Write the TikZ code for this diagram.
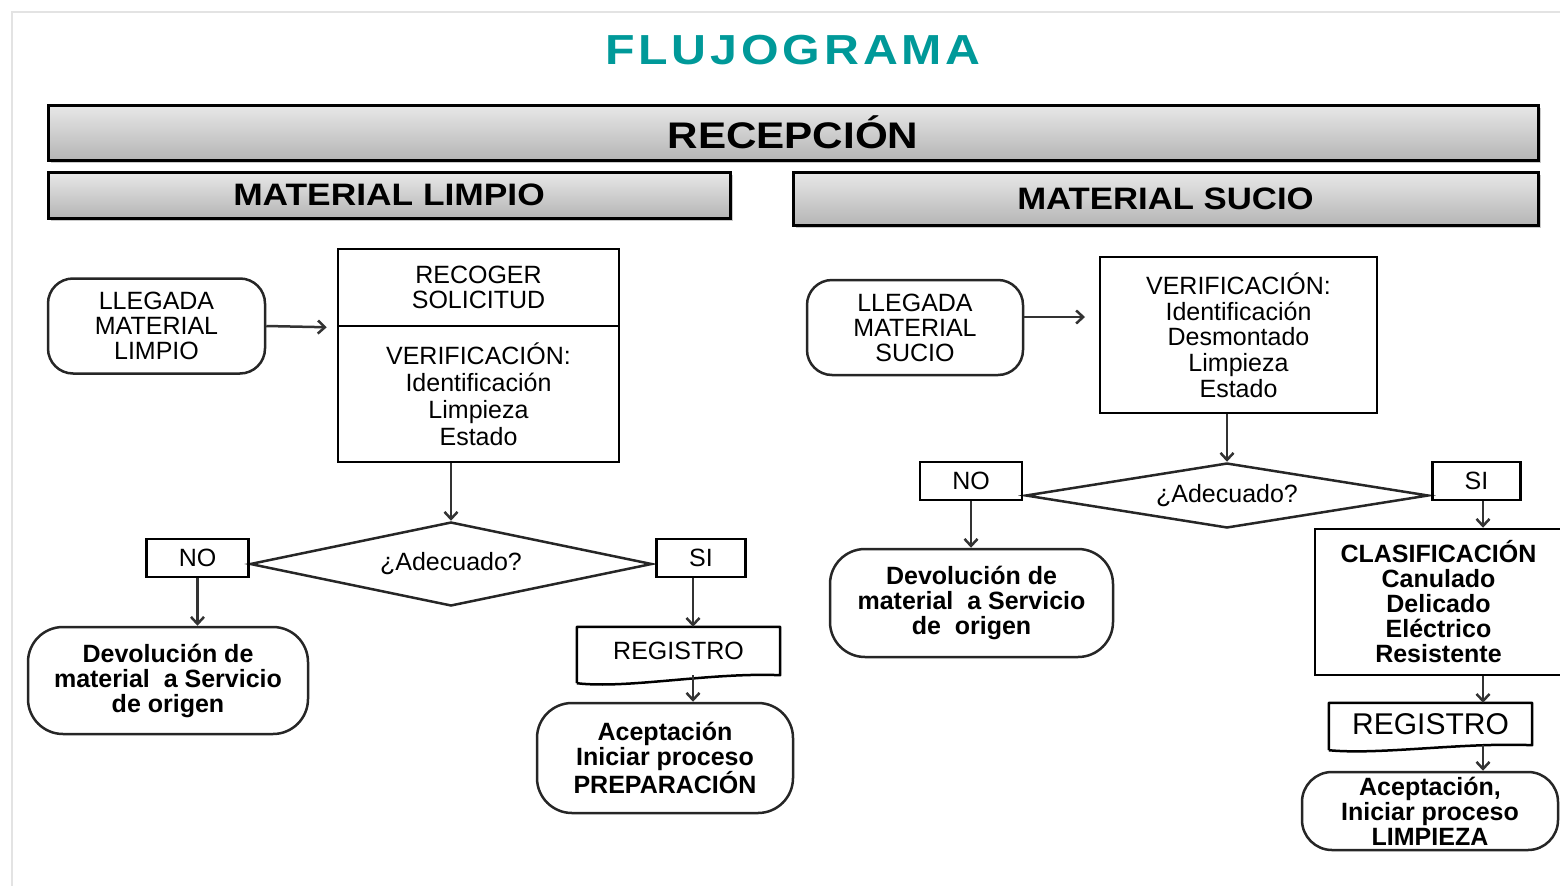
\documentclass[tikz,border=0pt]{standalone}
\usepackage{fontspec}
\setmainfont{Liberation Sans}
\newfontfamily\titlefont[LetterSpace=8]{Liberation Sans}
\usetikzlibrary{shapes.geometric, arrows.meta, shadows, positioning}
\definecolor{verdeazul}{RGB}{0,153,153}
\tikzstyle{cuerpo} = [font=\fontsize{25}{25}\selectfont, align=center, inner sep=0pt]
\tikzstyle{negrita} = [font=\fontsize{25}{25}\selectfont\bfseries]
\tikzstyle{inicio} = [cuerpo, rectangle, rounded corners=25pt, draw=black!85, line width=2.5pt]
\tikzstyle{proceso} = [cuerpo, rectangle, draw=black, line width=2.5pt]
\tikzstyle{decision} = [cuerpo, diamond, draw=black!85, line width=2.5pt]
\tikzstyle{respuesta} = [cuerpo, rectangle, draw=black, line width=2.5pt, minimum height=38pt]
\tikzstyle{documento} = [cuerpo, rectangle, minimum width=203pt]
\tikzstyle{barra} = [rectangle, draw=black, line width=3pt, top color=gray!18, bottom color=gray!58, drop shadow={shadow xshift=3pt, shadow yshift=-3pt, fill=gray!70, opacity=0.6}]
\tikzstyle{arrow} = [-{Straight Barb[length=7pt,width=13pt]}, line width=2.5pt, black!80]

\begin{document}
\begin{tikzpicture}[x=1pt, y=-1pt]
\useasboundingbox (0,0) rectangle (1560,886);
%marco
\draw[gray!22, line width=2pt] (12,886) -- (12,12) -- (1560,12);
%encabezados
\node[text=verdeazul, font={\titlefont\bfseries\fontsize{42}{42}\selectfont}] (titulo) at (793,50) {\scalebox{1.15}[1]{FLUJOGRAMA}};
\node[barra, minimum width=1490pt, minimum height=55pt, font={\bfseries\fontsize{37}{37}\selectfont}] (recep) at (793,132.5) {\scalebox{1.14}[1]{RECEPCIÓN}};
\node[barra, minimum width=682pt, minimum height=46pt, font={\bfseries\fontsize{31}{31}\selectfont}] (limpio) at (389,195) {\scalebox{1.14}[1]{MATERIAL LIMPIO}};
\node[barra, minimum width=745pt, minimum height=53pt, font={\bfseries\fontsize{31}{31}\selectfont}] (sucio) at (1165.5,198.5) {\scalebox{1.12}[1]{MATERIAL SUCIO}};

%material limpio
\node[inicio, minimum width=217pt, minimum height=95pt] (llegl) at (156.5,326) {LLEGADA\\MATERIAL\\LIMPIO};
\node[proceso, minimum width=281pt, minimum height=77pt] (recl) at (478.5,287.5) {RECOGER\\SOLICITUD};
\node[proceso, minimum width=281pt, minimum height=136pt, font=\fontsize{25}{27}\selectfont] (verl) at (478.5,394) {VERIFICACIÓN:\\Identificación\\Limpieza\\Estado};
\node[decision, aspect=4.8, minimum width=402pt, minimum height=84pt] (dial) at (451,564) {¿Adecuado?};
\node[respuesta, minimum width=102pt, left=-1pt of dial, yshift=6pt] (nol) {NO};
\node[respuesta, minimum width=89pt, right=2pt of dial, yshift=6pt] (sil) {SI};
\node[inicio, negrita, rounded corners=35pt, minimum width=280pt, minimum height=107pt] (devl) at (168,680.5) {Devolución de\\material~~a Servicio\\de origen};
\node[documento, minimum height=48pt] (regl) at (678.5,651) {REGISTRO};
\draw[line width=2.5pt, line join=round] ([yshift=-8pt]regl.south west) -- (regl.north west) -- (regl.north east) -- (regl.south east) .. controls +(-70,-3) and +(50,6) .. ([yshift=-8pt]regl.south west);
\node[inicio, negrita, rounded corners=35pt, minimum width=256pt, minimum height=110pt] (acel) at (665,758) {Aceptación\\Iniciar proceso\\PREPARACIÓN};

%material sucio
\node[inicio, minimum width=216pt, minimum height=95pt] (llegs) at (915,327.5) {LLEGADA\\MATERIAL\\SUCIO};
\node[proceso, minimum width=277pt, minimum height=156pt, font=\fontsize{25}{25.7}\selectfont] (vers) at (1238.5,335) {VERIFICACIÓN:\\Identificación\\Desmontado\\Limpieza\\Estado};
\node[decision, aspect=6.2, minimum width=403pt, minimum height=65pt] (dias) at (1227,495.5) {¿Adecuado?};
\node[respuesta, minimum width=102pt, left=1pt of dias, yshift=14.5pt] (nos) {NO};
\node[respuesta, minimum width=88pt, right=1.5pt of dias, yshift=14.5pt] (sis) {SI};
\node[inicio, negrita, rounded corners=35pt, minimum width=283pt, minimum height=108pt] (devs) at (971.5,603) {Devolución de\\material~~a Servicio\\de~~origen};
\node[proceso, negrita, minimum width=247pt, minimum height=146pt] (clas) at (1438.5,602) {CLASIFICACIÓN\\Canulado\\Delicado\\Eléctrico\\Resistente};
\node[documento, minimum height=42pt, font=\fontsize{30}{30}\selectfont] (regs) at (1430.5,724) {REGISTRO};
\draw[line width=2.5pt, line join=round] ([yshift=-5pt]regs.south west) -- (regs.north west) -- (regs.north east) -- (regs.south east) .. controls +(-70,-3) and +(50,5) .. ([yshift=-5pt]regs.south west);
\node[inicio, negrita, rounded corners=30pt, minimum width=256pt, minimum height=78pt] (aces) at (1430,811) {Aceptación,\\Iniciar proceso\\LIMPIEZA};

%conectores
\coordinate (cl) at (693,0);
\coordinate (cs) at (1483,0);
\coordinate (flechas) at (1085,317);
\draw [arrow] (llegl.east) -- ([xshift=-10pt]recl.south west);
\draw [arrow] (dial.north |- verl.south) -- (dial.north);
\draw [arrow] (nol.south) -- (nol.south |- devl.north);
\draw [arrow] (cl |- sil.south) -- (cl |- regl.north);
\draw [arrow] (cl |- regl.south) -- (cl |- acel.north);
\draw [arrow] (llegs.east |- flechas) -- (flechas);
\draw [arrow] (dias.north |- vers.south) -- (dias.north);
\draw [arrow] (nos.south) -- (nos.south |- devs.north);
\draw [arrow] (cs |- sis.south) -- (cs |- clas.north);
\draw [arrow] (cs |- clas.south) -- (cs |- regs.north);
\draw [arrow] (cs |- regs.south) -- (cs |- aces.north);
\end{tikzpicture}
\end{document}
